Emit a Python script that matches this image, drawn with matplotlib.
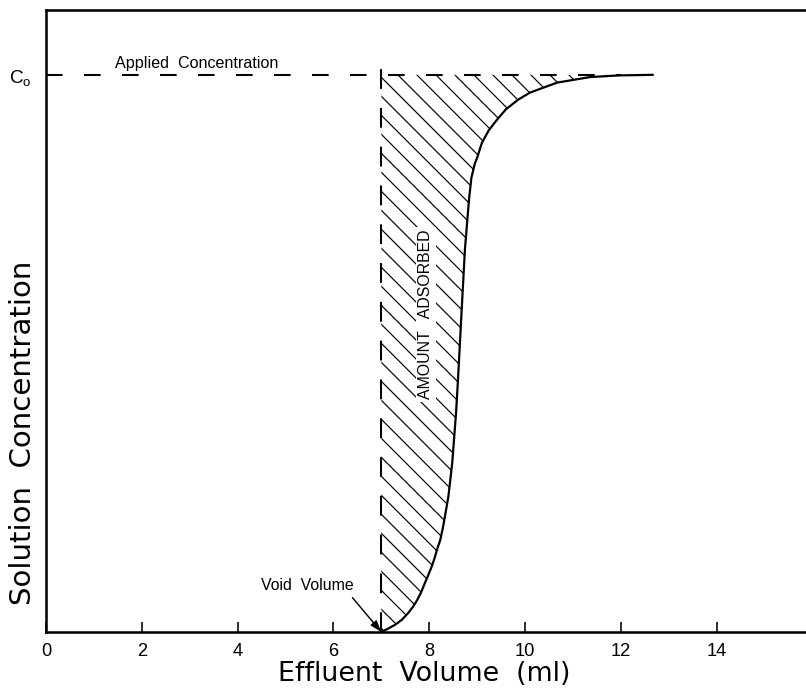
import matplotlib
matplotlib.use("Agg")
import matplotlib.pyplot as plt

# Breakthrough curve: effluent volume (ml) vs. relative solution concentration (C/Co)
volume = [7.0, 7.12, 7.29, 7.43, 7.56, 7.66, 7.74, 7.83, 7.91, 7.98, 8.05, 8.11,
          8.16, 8.23, 8.29, 8.40, 8.48, 8.56, 8.60, 8.67, 8.745, 8.83, 8.88, 8.95,
          9.0, 9.10, 9.24, 9.42, 9.60, 9.85, 10.1, 10.67, 11.36, 11.98, 12.67]
concentration = [0.0, 0.005, 0.013, 0.022, 0.034, 0.045, 0.056, 0.071, 0.088, 0.102,
                 0.117, 0.132, 0.147, 0.165, 0.189, 0.243, 0.303, 0.393, 0.452, 0.566,
                 0.686, 0.776, 0.815, 0.840, 0.851, 0.878, 0.900, 0.920, 0.938, 0.955,
                 0.968, 0.986, 0.996, 0.999, 1.0]

applied_conc = 1.0
void_volume = 7.0
x_ticks = [0, 2, 4, 6, 8, 10, 12, 14]
x_tick_labels = ["0", "2", "4", "6", "8", "10", "12", "14"]

DPI = 114
plt.rcParams["font.family"] = ["Liberation Sans", "DejaVu Sans"]
plt.rcParams["hatch.linewidth"] = 0.75
plt.rcParams["hatch.color"] = "black"
plt.rcParams["lines.scale_dashes"] = False

fig = plt.figure(figsize=(806.2 / DPI, 691.2 / DPI), dpi=DPI)
ax = fig.add_axes([46 / 806, 59 / 691, 1 - 46 / 806, 622 / 691])

ax.set_xlim(0, 15.87)
ax.set_ylim(0, 1.1167)

# hatched region: amount adsorbed
ax.fill_between(volume, concentration, applied_conc, facecolor="none",
                edgecolor="black", hatch="\\\\", linewidth=0)

# breakthrough curve
ax.plot(volume, concentration, color="black", lw=1.4,
        solid_capstyle="round", solid_joinstyle="round")

# applied concentration line
ax.plot([0, 12.0], [applied_conc, applied_conc], color="black", lw=1.3,
        dashes=(10.5, 13.5))
# void volume line
ax.plot([void_volume, void_volume], [0, 1.02], color="black", lw=1.3,
        dashes=(12.5, 12.0))

ax.text(1.44, 1.008, "Applied  Concentration", fontsize=10.2, ha="left", va="bottom")

ax.text(7.93, 0.57, "AMOUNT   ADSORBED", rotation=90, fontsize=10,
        ha="center", va="center",
        bbox=dict(facecolor="white", edgecolor="none", pad=1.5))

ax.annotate("Void  Volume", xy=(void_volume, 0.0), xytext=(5.45, 0.083),
            fontsize=10, ha="center", va="center",
            arrowprops=dict(arrowstyle="-|>,head_length=0.6,head_width=0.2",
                            color="black", lw=0.9, relpos=(0.95, 0.0),
                            shrinkA=1, shrinkB=0))

# axes styling
ax.spines["right"].set_visible(False)
for side in ["left", "bottom", "top"]:
    ax.spines[side].set_linewidth(1.6)

ax.set_xticks(x_ticks)
ax.set_xticklabels(x_tick_labels)
ax.tick_params(axis="x", direction="in", length=6.5, width=1.0, pad=7,
               labelsize=11.5)
ax.set_yticks([applied_conc])
ax.set_yticklabels([r"$\mathregular{C_o}$"])
ax.tick_params(axis="y", length=0, pad=9, labelsize=12)

ax.set_xlabel("Effluent  Volume  (ml)", fontsize=17, family="DejaVu Sans")
ax.xaxis.set_label_coords(0.498, -0.046)
ax.set_ylabel("Solution  Concentration", fontsize=18.5, family="DejaVu Sans")
ax.yaxis.set_label_coords(-0.012, 0.32)

fig.savefig("out.png", dpi=DPI)
